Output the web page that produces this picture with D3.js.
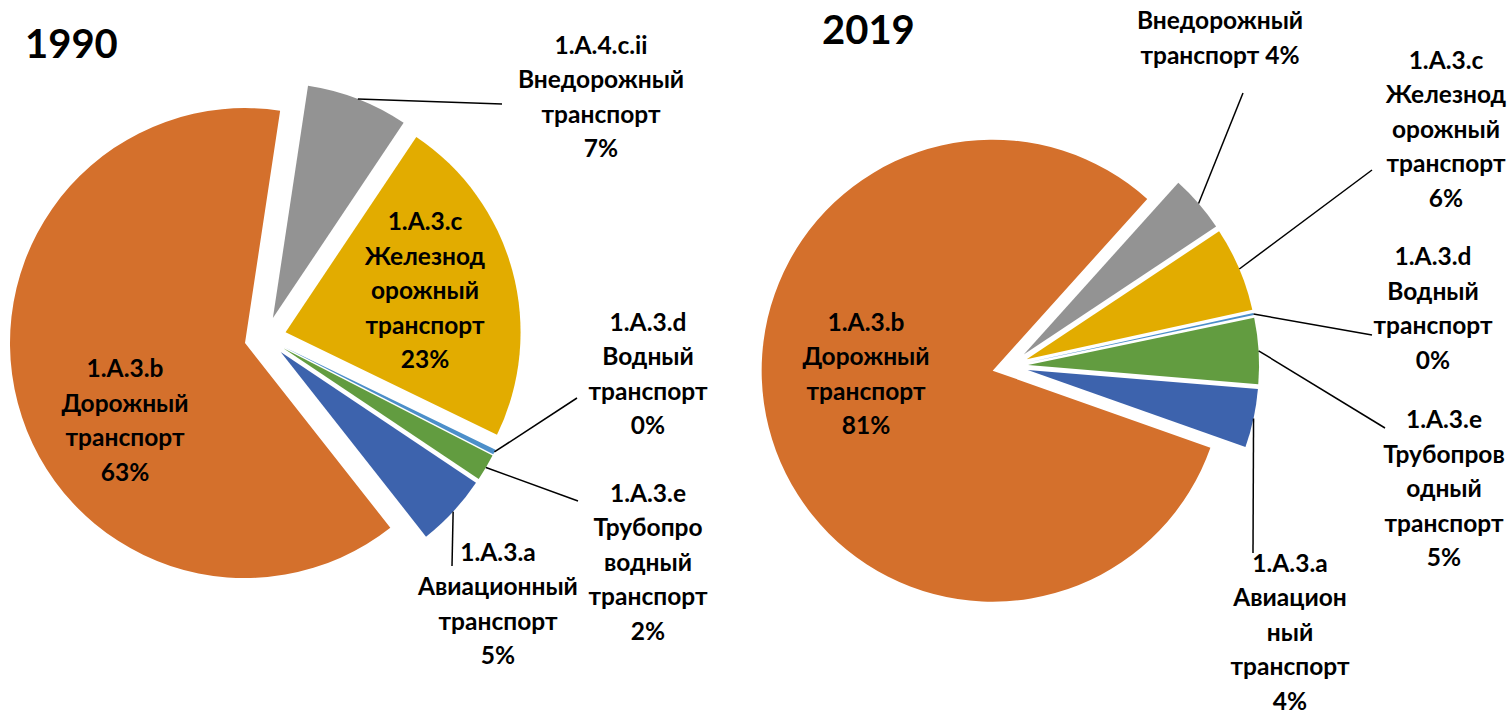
<!DOCTYPE html>
<html>
<head>
<meta charset="utf-8">
<script src="https://cdn.jsdelivr.net/npm/d3@7"></script>
<style>
    body { margin: 0; background: #fff; }
    text { font-family: Lato, "DejaVu Sans", sans-serif; font-weight: bold; fill: #000; }
</style>
</head>
<body>
<div id="chart"></div>
<script>
// categories in the order the slices go clockwise
const categories = ["1.A.3.a", "1.A.3.b", "1.A.4.c.ii", "1.A.3.c", "1.A.3.d", "1.A.3.e"];
const values1990 = [5.0, 63.0, 7.0, 22.8, 0.35, 1.85];
const values2019 = [4.1, 81.25, 4.0, 5.9, 0.15, 4.6];
const sliceColors = ["#3D63AD", "#D4702C", "#939393", "#E2AC00", "#4C8FC9", "#629C40"];

// label text, "%" gets replaced by the rounded share
const labels1990 = [
    ["1.A.3.a", "Авиационный", "транспорт", "%"],
    ["1.A.3.b", "Дорожный", "транспорт", "%"],
    ["1.A.4.c.ii", "Внедорожный", "транспорт", "%"],
    ["1.A.3.c", "Железнод", "орожный", "транспорт", "%"],
    ["1.A.3.d", "Водный", "транспорт", "%"],
    ["1.A.3.e", "Трубопро", "водный", "транспорт", "%"]
];
const labels2019 = [
    ["1.A.3.a", "Авиацион", "ный", "транспорт", "%"],
    ["1.A.3.b", "Дорожный", "транспорт", "%"],
    ["Внедорожный", "транспорт %"],
    ["1.A.3.c", "Железнод", "орожный", "транспорт", "%"],
    ["1.A.3.d", "Водный", "транспорт", "%"],
    ["1.A.3.e", "Трубопров", "одный", "транспорт", "%"]
];

// placement of each pie (manually dragged labels like in the original)
const layout1990 = {
    title: "1990", titleX: 25, titleY: 58,
    cx: 265.3, cy: 337.7, r: 235, explode: 21, start: 123.8,
    labelPos: [[498, 603.5], [125, 420], [601, 96.5], [425, 290.5], [648, 373.5], [648, 562]],
    leaderEnd: [[452, 566], null, [502, 104], null, [577, 398], [578, 501]]
};
const layout2019 = {
    title: "2019", titleX: 822, titleY: 44,
    cx: 1010.1, cy: 366.2, r: 231, explode: 18, start: 94.74,
    labelPos: [[1290, 632], [866, 373.5], [1220, 37.5], [1446, 129], [1433, 308], [1444, 488.5]],
    leaderEnd: [[1253, 553], null, [1243, 93], [1372, 170], [1372, 335], [1385, 428]]
};

class ExplodedPie {
    constructor(svg, values, labels, layout) {
        this.svg = svg;
        this.values = values;
        this.labels = labels;
        this.layout = layout;

        this.initVis();
    }

    initVis() {
        let vis = this;
        let L = vis.layout;

        vis.g = vis.svg.append("g");

        vis.pie = d3.pie()
            .sort(null)
            .value(d => d)
            .startAngle(L.start * Math.PI / 180)
            .endAngle(L.start * Math.PI / 180 + 2 * Math.PI);

        vis.arc = d3.arc().innerRadius(0).outerRadius(L.r);

        vis.g.append("text")
            .attr("x", L.titleX)
            .attr("y", L.titleY)
            .style("font-size", "40px")
            .text(L.title);

        vis.wrangleData();
    }

    wrangleData() {
        let vis = this;

        vis.displayData = vis.pie(vis.values).map((d, i) => {
            let mid = (d.startAngle + d.endAngle) / 2;
            return {
                slice: d,
                i: i,
                mid: mid,
                dx: vis.layout.explode * Math.sin(mid),
                dy: -vis.layout.explode * Math.cos(mid),
                pct: Math.round(d.data) + "%"
            };
        });

        vis.updateVis();
    }

    updateVis() {
        let vis = this;
        let L = vis.layout;
        let lh = 34.5;

        let slices = vis.g.selectAll(".slice")
            .data(vis.displayData)
            .enter().append("g")
            .attr("class", "slice")
            .attr("transform", d => `translate(${L.cx + d.dx},${L.cy + d.dy})`);

        slices.append("path")
            .attr("d", d => vis.arc(d.slice))
            .attr("fill", d => sliceColors[d.i]);

        // leader lines from the outer edge of the slice to the label
        vis.g.selectAll(".leader")
            .data(vis.displayData.filter(d => L.leaderEnd[d.i]))
            .enter().append("line")
            .attr("class", "leader")
            .attr("x1", d => L.cx + d.dx + L.r * Math.sin(d.mid))
            .attr("y1", d => L.cy + d.dy - L.r * Math.cos(d.mid))
            .attr("x2", d => L.leaderEnd[d.i][0])
            .attr("y2", d => L.leaderEnd[d.i][1])
            .attr("stroke", "black")
            .attr("stroke-width", 1.5);

        let lbl = vis.g.selectAll(".lbl")
            .data(vis.displayData)
            .enter().append("text")
            .attr("class", "lbl")
            .attr("text-anchor", "middle")
            .style("font-size", "24.5px");

        lbl.each(function(d) {
            let lines = vis.labels[d.i].map(s => s.replace("%", d.pct));
            let pos = L.labelPos[d.i];
            let y0 = pos[1] - (lines.length - 1) / 2 * lh;
            d3.select(this).selectAll("tspan")
                .data(lines)
                .enter().append("tspan")
                .attr("x", pos[0])
                .attr("y", (s, k) => y0 + k * lh)
                .attr("dy", "0.36em")
                .text(s => s);
        });
    }
}

let svg = d3.select("#chart").append("svg")
    .attr("width", 1511)
    .attr("height", 716);

svg.append("rect").attr("width", 1511).attr("height", 716).attr("fill", "#fff");

new ExplodedPie(svg, values1990, labels1990, layout1990);
new ExplodedPie(svg, values2019, labels2019, layout2019);
</script>
</body>
</html>
